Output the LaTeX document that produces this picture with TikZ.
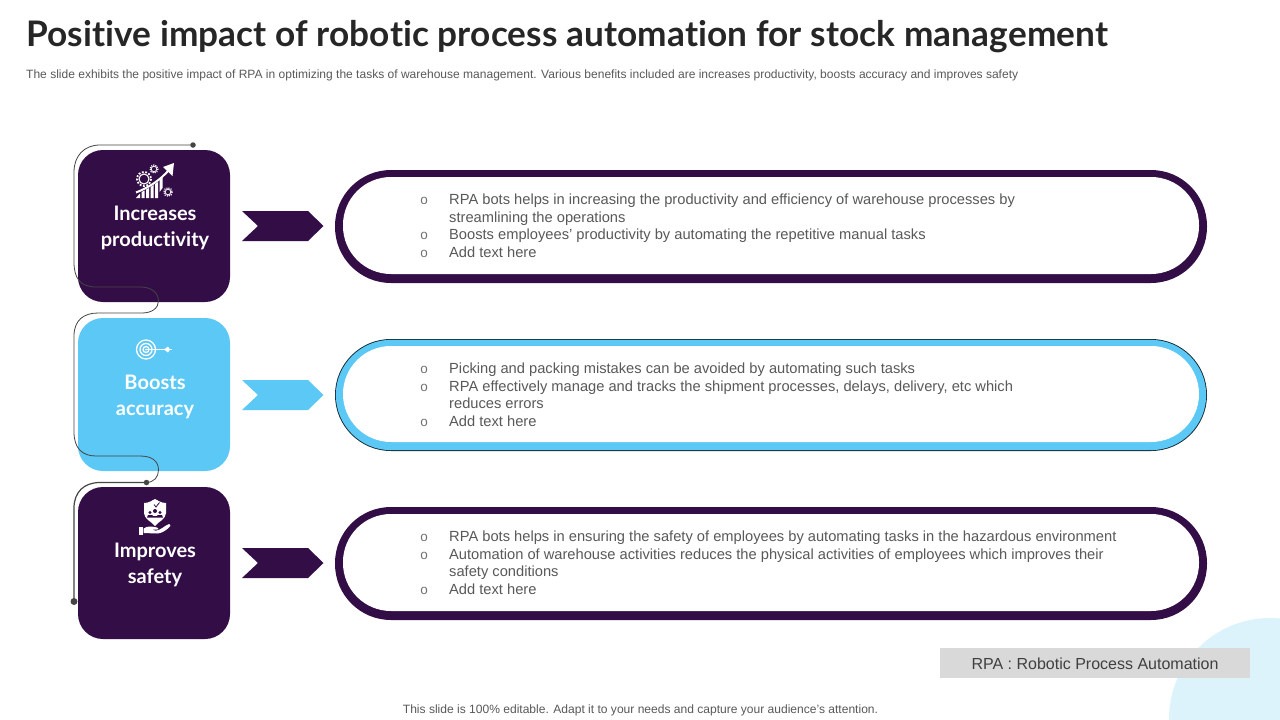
\documentclass[tikz,border=0pt]{standalone}
\usepackage{fontspec}
\setmainfont{Liberation Sans}
\newfontfamily\headfont[RawFeature={-liga}]{Lato}
\usetikzlibrary{calc}
\definecolor{plum}{HTML}{330D45}
\definecolor{sky}{HTML}{5BC8F5}
\definecolor{bodygrey}{HTML}{595959}
\definecolor{wire}{HTML}{454545}
\definecolor{paleblue}{HTML}{DDF3FC}
\definecolor{notegrey}{HTML}{D9D9D9}
\tikzset{
 x=1pt,y=-1pt,
 card/.style={rounded corners=25pt},
 head/.style={font=\headfont\bfseries\fontsize{20}{26}\selectfont,text=white,align=center,inner sep=0pt},
 bodyline/.style={font=\fontsize{14.68}{17}\selectfont,text=bodygrey,anchor=base west,inner sep=0pt},
 bul/.style={font=\fontsize{13.5}{14}\selectfont,text=bodygrey!85,anchor=base,inner sep=0pt},
 wireline/.style={draw=wire,line width=0.8pt},
 dot/.style={circle,fill=wire,inner sep=0pt,minimum size=#1},
}
\newcommand{\pill}[3]{% top, bottom, colour
 \fill[#3,rounded corners=56pt] (335,#1) rectangle (1207,#2);
 \fill[white,rounded corners=48pt] (343,#1+7) rectangle (1199,#2-9);
}
\newcommand{\chev}[3]{% name, top, colour
 \fill[#3] (242,#2) -- (308,#2) -- (323.5,#2+15) -- (308,#2+30) -- (242,#2+30) -- (258,#2+15) -- cycle;
 \coordinate (#1) at (283,#2+15);
}
\begin{document}
\begin{tikzpicture}
\useasboundingbox (0,0) rectangle (1280,720);
\fill[white] (0,0) rectangle (1280,720);
% pale circle
\begin{scope}
\clip (0,0) rectangle (1280,720);
\fill[paleblue] (1270,719) circle (101);
\end{scope}
% title
\node[anchor=base west,inner sep=0pt,text=black!85] (title) at (26,46) {\headfont\bfseries\addfontfeature{LetterSpace=0.3}\fontsize{35.2}{40}\selectfont Positive impact of robotic process automation for stock management};
\node[anchor=base west,inner sep=0pt,text=bodygrey] (sub) at (26,78) {\fontsize{12.03}{14}\selectfont The slide exhibits the positive impact of RPA in optimizing the tasks of warehouse management. Various benefits included are increases productivity, boosts accuracy and improves safety};
% cards
\fill[plum,card] (78,150) rectangle (230,302);
\fill[sky,card] (78,318) rectangle (230,471);
\fill[plum,card] (78,487) rectangle (230,639);
% wire
\coordinate (w1) at (193,145);
\coordinate (w3) at (74,601.5);
\draw[wireline] (w1) -- (100,145) .. controls (84,145) and (74,156) .. (74,172)
  -- (74,262) .. controls (74,278) and (80,287) .. (96,287)
  -- (140,287) .. controls (152,287) and (158.5,293) .. (158.5,301)
  .. controls (158.5,308) and (152,313) .. (142,313)
  -- (98,313) .. controls (84,313) and (74,320) .. (74,336)
  -- (74,432) .. controls (74,448) and (82,456) .. (96,456)
  -- (140,456) .. controls (152,456) and (158.5,461) .. (158.5,470)
  .. controls (158.5,477) and (154,482.5) .. (146,482.5);
\draw[wireline,line width=1.2pt] (146,482.5) -- (100,482.5) .. controls (84,482.5) and (74,492) .. (74,508) -- (w3);
\node[dot=5.5pt] (d1) at (w1) {};
\node[dot=5.5pt] (d2) at (146.5,482.5) {};
\node[dot=7pt] (d3) at (w3) {};
% icon: growth
\begin{scope}[shift={(155,181)}]
 \draw[white,line width=1.1pt] (-11,-2) circle (5);
 \draw[white,line width=1.8pt,dash pattern=on 1.8pt off 1.6pt] (-11,-2) circle (7);
 \draw[white,line width=.8pt] (-1,-12) circle (2.8);
 \draw[white,line width=1.2pt,dash pattern=on 1.1pt off 1.1pt] (-1,-12) circle (4);
 \draw[white,line width=.8pt] (13,11) circle (2.8);
 \draw[white,line width=1.2pt,dash pattern=on 1.1pt off 1.1pt] (13,11) circle (4.2);
 \fill[white] (-19,17) -- (-15,12.5) -- (-15,17) -- cycle;
 \fill[white] (-13.5,11) -- (-10.5,9.5) -- (-10.5,17) -- (-13.5,17) -- cycle;
 \fill[white] (-9,8.5) -- (-6,7) -- (-6,17) -- (-9,17) -- cycle;
 \fill[white] (-4.5,6) -- (-1.5,4) -- (-1.5,17) -- (-4.5,17) -- cycle;
 \fill[white] (0,3) -- (3,1) -- (3,17) -- (0,17) -- cycle;
 \fill[white] (4.5,-1) -- (7.5,-4) -- (7.5,7) -- (4.5,11) -- cycle;
 \draw[white,line width=2pt] (-19,11.5) .. controls (-5,6) and (5,-1) .. (14,-11);
 \fill[white] (19,-18) -- (17.5,-5) -- (8,-14) -- cycle;
\end{scope}
% icon: target
\begin{scope}[shift={(146,349.5)}]
 \foreach \r in {3,6,9.5}{\draw[white,line width=1.3pt] (0,0) circle (\r);}
 \fill[white] (0,0) circle (1);
 \draw[white,line width=1.3pt] (0,0) -- (26,0);
 \fill[white] (18,0) -- (22,-3) -- (24,0) -- (22,3) -- cycle;
\end{scope}
% icon: safety
\begin{scope}[shift={(155,518)}]
 \fill[white] (-11,-15) .. controls (-5,-15) and (-3,-18) .. (0,-19) .. controls (3,-18) and (5,-15) .. (11,-15) -- (11,-5)
   .. controls (11,1) and (3,4) .. (0,8) .. controls (-3,4) and (-11,1) .. (-11,-5) -- cycle;
 \fill[plum] (-5,-5.5) circle (1.7) (5,-5.5) circle (1.7) (0,-7) circle (2);
 \fill[plum] (-8,-0.5) -- (-7,-3) -- (-2,-3) -- (-3,-2) -- (3,-2) -- (2,-3) -- (7,-3) -- (8,-0.5) -- cycle;
 \draw[plum,line width=.8pt] (-1,-13.5) -- (1,-11) -- (4.5,-15.5);
 \fill[white] (-16,9) rectangle (-12.5,17);
 \fill[white] (-11.5,10.5) .. controls (-7,7.5) and (-3,8.5) .. (2,9.5) .. controls (4,10) and (4,11.5) .. (1,11.7) -- (-3,11.7)
   -- (1,12.7) .. controls (6,12) and (10,7.5) .. (14,6) .. controls (16,6) and (16,8) .. (13.5,10)
   .. controls (10,13) and (6,15.5) .. (2,15.5) -- (-11.5,15) -- cycle;
\end{scope}
% card labels
\node[head] (l1) at (155,228) {Increases\\productivity};
\node[head] (l2) at (155,397) {Boosts\\accuracy};
\node[head] (l3) at (155,564.5) {Improves\\safety};
% chevrons
\chev{c1}{211}{plum}
\chev{c2}{380}{sky}
\chev{c3}{548}{plum}
% pills
\pill{170}{283}{plum}
\fill[black!80!sky,rounded corners=56pt] (335,339) rectangle (1207,451);
\fill[sky,rounded corners=55.5pt] (335.8,339.8) rectangle (1206.2,450.2);
\fill[white,rounded corners=48pt] (343,346) rectangle (1199,442);
\pill{507}{620}{plum}
% text 1
\node[bul] (b11) at (424,204) {o};
\node[bodyline] (t11) at (449,204) {RPA bots helps in increasing the productivity and efficiency of warehouse processes by};
\node[bodyline] (t12) at (449,222) {streamlining the operations};
\node[bul] (b12) at (424,239) {o};
\node[bodyline] (t13) at (449,239) {Boosts employees’ productivity by automating the repetitive manual tasks};
\node[bul] (b13) at (424,257) {o};
\node[bodyline] (t14) at (449,257) {Add text here};
% text 2
\node[bul] (b21) at (424,373) {o};
\node[bodyline] (t21) at (449,373) {Picking and packing mistakes can be avoided by automating such tasks};
\node[bul] (b22) at (424,391) {o};
\node[bodyline] (t22) at (449,391) {RPA effectively manage and tracks the shipment processes, delays, delivery, etc which};
\node[bodyline] (t23) at (449,408) {reduces errors};
\node[bul] (b23) at (424,426) {o};
\node[bodyline] (t24) at (449,426) {Add text here};
% text 3
\node[bul] (b31) at (424,541) {o};
\node[bodyline] (t31) at (449,541) {RPA bots helps in ensuring the safety of employees by automating tasks in the hazardous environment};
\node[bul] (b32) at (424,559) {o};
\node[bodyline] (t32) at (449,559) {Automation of warehouse activities reduces the physical activities of employees which improves their};
\node[bodyline] (t33) at (449,576) {safety conditions};
\node[bul] (b33) at (424,594) {o};
\node[bodyline] (t34) at (449,594) {Add text here};
% note
\node[fill=notegrey,minimum width=310pt,text height=21pt,text depth=9pt,inner sep=0pt,text=black!75,font=\fontsize{16}{19}\selectfont] (note) at (1095,663) {RPA : Robotic Process Automation};
% footer
\node[anchor=base,inner sep=0pt,text=bodygrey] (foot) at (640.5,713) {\fontsize{12.05}{14}\selectfont This slide is 100\% editable. Adapt it to your needs and capture your audience’s attention.};
\end{tikzpicture}
\end{document}
